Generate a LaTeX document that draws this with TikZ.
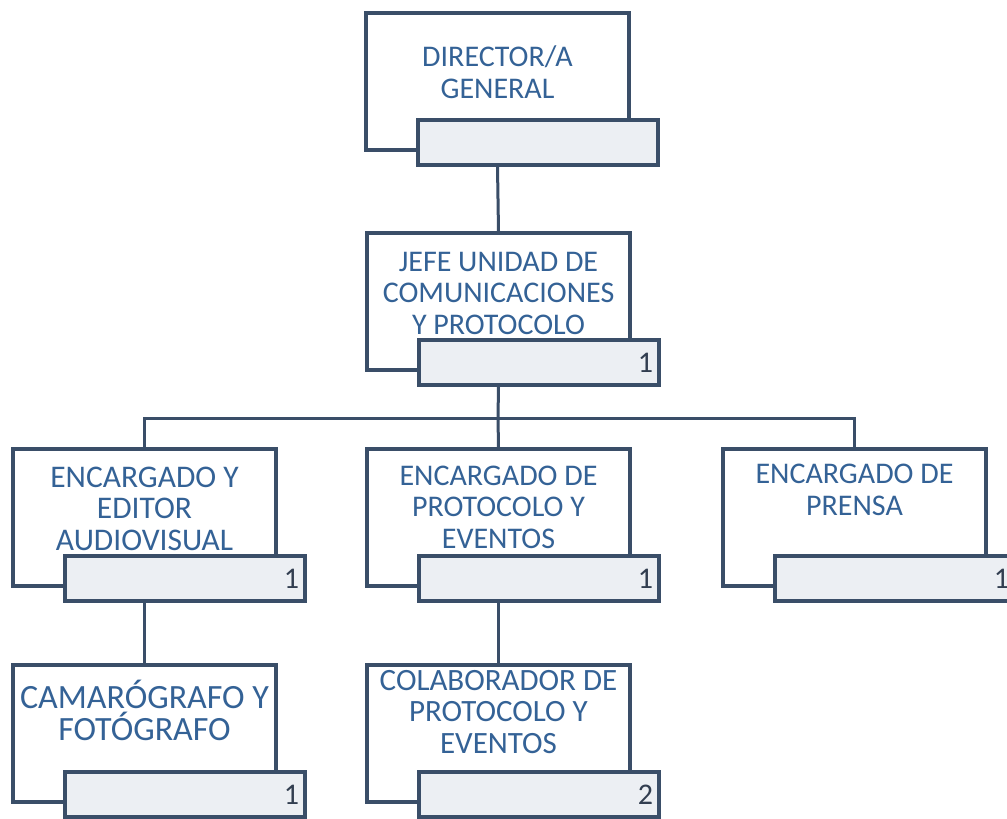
\documentclass[tikz,border=0pt]{standalone}
\usepackage{fontspec}
\setmainfont{Carlito}
\definecolor{edge}{RGB}{58,78,104}
\definecolor{txt}{RGB}{52,98,150}
\definecolor{num}{RGB}{50,62,80}
\definecolor{barfill}{RGB}{236,239,243}
\tikzset{
  obox/.style={draw=edge, line width=3.5pt, fill=white, minimum width=263pt, minimum height=137pt, inner sep=0pt},
  nbar/.style={draw=edge, line width=3.5pt, fill=barfill, minimum height=45pt, text width=228pt, inner xsep=6pt, inner ysep=0pt, align=right, text=num, font=\fontsize{30}{31.5}\selectfont},
  lbl/.style={align=center, text=txt, inner sep=0pt, anchor=base, font=\fontsize{30}{31.5}\selectfont},
  conn/.style={draw=edge, line width=3pt}
}
\begin{document}
\begin{tikzpicture}[x=1pt,y=-1pt]
\useasboundingbox (0,0) rectangle (1007,819);
\fill[white] (0,0) rectangle (1007,819);
% Director
\node[obox] (b1) at (366+131.5,13+68.5) {};
\node[lbl] (t1) at (b1.center |- 0,98) {DIRECTOR/A\\GENERAL};
\node[nbar] (n1) at (366+172,13+129.5) {};
% Jefe
\node[obox] (b2) at (367+131.5,233+68.5) {};
\node[lbl] (t2) at (b2.center |- 0,334) {JEFE UNIDAD DE\\COMUNICACIONES\\Y PROTOCOLO};
\node[nbar] (n2) at (367+172,233+129.5) {1};
% Row 3
\node[obox] (b3) at (13+131.5,449+68.5) {};
\node[lbl, font=\fontsize{31.5}{31.5}\selectfont] (t3) at (b3.center |- 0,550) {ENCARGADO Y\\EDITOR\\AUDIOVISUAL};
\node[nbar] (n3) at (13+172,449+129.5) {1};
\node[obox] (b4) at (367+131.5,449+68.5) {};
\node[lbl] (t4) at (b4.center |- 0,548) {ENCARGADO DE\\PROTOCOLO Y\\EVENTOS};
\node[nbar] (n4) at (367+172,449+129.5) {1};
\node[obox] (b5) at (723+131.5,449+68.5) {};
\node[lbl] (t5) at (b5.center |- 0,515) {ENCARGADO DE\\PRENSA};
\node[nbar] (n5) at (723+172,449+129.5) {1};
% Row 4
\node[obox] (b6) at (13+131.5,665+68.5) {};
\node[lbl, font=\fontsize{34}{32}\selectfont] (t6) at (b6.center |- 0,740) {CAMARÓGRAFO Y\\FOTÓGRAFO};
\node[nbar] (n6) at (13+172,665+129.5) {1};
\node[obox] (b7) at (367+131.5,665+68.5) {};
\node[lbl, font=\fontsize{31}{31.5}\selectfont] (t7) at (b7.center |- 0,753) {COLABORADOR DE\\PROTOCOLO Y\\EVENTOS};
\node[nbar] (n7) at (367+172,665+129.5) {2};
% Connectors
\coordinate (bus) at (498,418);
\draw[conn] (b1 |- n1.south) -- (b2.north);
\draw[conn] (b2 |- n2.south) -- (bus);
\draw[conn] (b3.north) |- (bus) -| (b5.north);
\draw[conn] (bus) -- (b4.north);
\draw[conn] (b3 |- n3.south) -- (b6.north);
\draw[conn] (b4 |- n4.south) -- (b7.north);
\end{tikzpicture}
\end{document}
